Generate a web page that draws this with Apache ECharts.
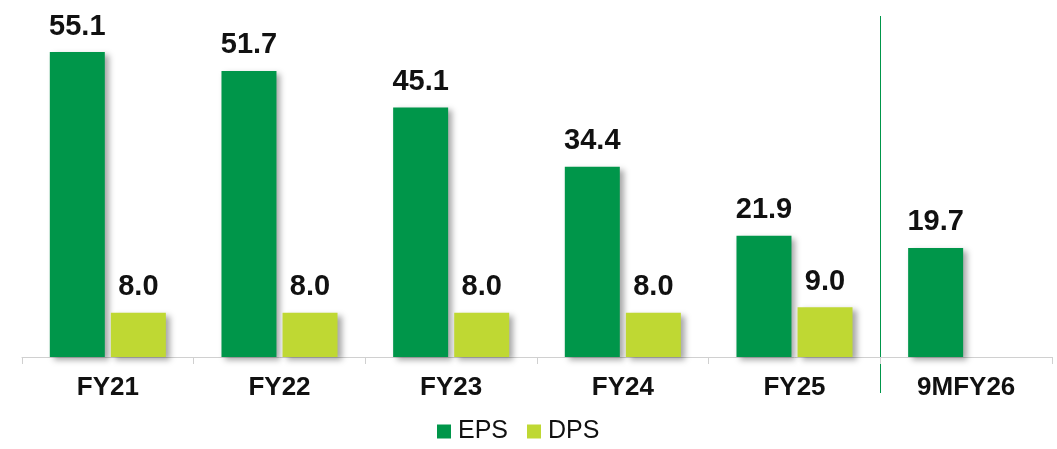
<!DOCTYPE html>
<html><head><meta charset="utf-8">
<script src="https://cdn.jsdelivr.net/npm/echarts@6/dist/echarts.min.js"></script>
<style>html,body{margin:0;padding:0;background:#fff}#c{width:1057px;height:449px}</style>
</head><body><div id="c"></div>
<script>
const categories = ['FY21','FY22','FY23','FY24','FY25','9MFY26'];
const epsValues = [55.1, 51.7, 45.1, 34.4, 21.9, 19.7];
const dpsValues = [8.0, 8.0, 8.0, 8.0, 9.0, null];
const seriesNames = ['EPS','DPS'];

const chart = echarts.init(document.getElementById('c'));
const font = '"Liberation Sans", Arial, sans-serif';
const shadow = {shadowColor:'rgba(0,0,0,0.35)', shadowBlur:6, shadowOffsetX:4, shadowOffsetY:3};
const lbl = {show:true, position:'top', distance:11, fontFamily:font, fontWeight:'bold', fontSize:29, color:'#111',
  formatter: p => p.value == null ? '' : Number(p.value).toFixed(1)};
chart.setOption({
  animation:false,
  grid:{left:22, right:5, top:25, bottom:92},
  legend:{top:419, left:437, padding:0, itemWidth:14, itemHeight:14, itemGap:19, icon:'rect',
    textStyle:{fontFamily:font, fontSize:25, color:'#111', padding:[0,0,0,2]}},
  xAxis:{type:'category', data:categories,
    axisLine:{lineStyle:{color:'#d0d0d0', width:1}},
    axisTick:{show:true, length:7, lineStyle:{color:'#d0d0d0'}},
    axisLabel:{fontFamily:font, fontWeight:'bold', fontSize:26, color:'#111', margin:18}},
  yAxis:{type:'value', min:0, max:60, show:false, splitLine:{show:false}},
  series:[
    {name:seriesNames[0], type:'bar', data:epsValues, barWidth:55, barGap:'11%',
      itemStyle:Object.assign({color:'#00964A'}, shadow), label:lbl},
    {name:seriesNames[1], type:'bar', data:dpsValues, barWidth:55,
      itemStyle:Object.assign({color:'#BFD833'}, shadow), label:lbl}
  ]
});
const x4 = chart.convertToPixel({xAxisIndex:0}, categories[4]);
const x5 = chart.convertToPixel({xAxisIndex:0}, categories[5]);
const xd = Math.round((x4 + x5) / 2) + 0.5;
chart.setOption({graphic:[{type:'line', shape:{x1:xd, y1:16, x2:xd, y2:393}, style:{stroke:'#00964A', lineWidth:1}}]});
</script></body></html>
